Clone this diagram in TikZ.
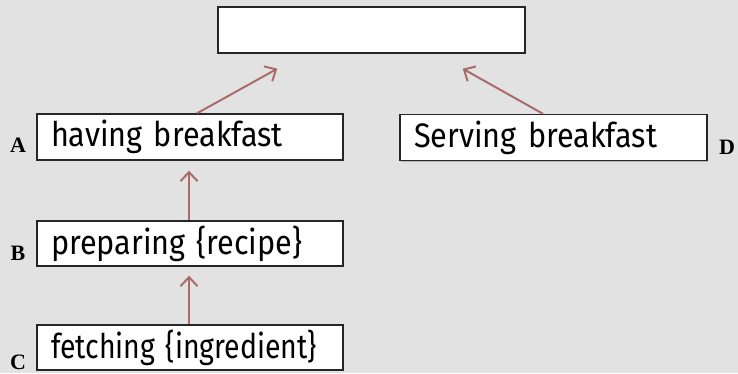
\documentclass[tikz,border=0pt]{standalone}
\usepackage{fontspec}
\usepackage{graphicx}
\setmainfont{Latin Modern Roman}
\newfontfamily\handfont[FakeStretch=0.9]{Fira Sans}
\newfontfamily\tagfont{Liberation Serif}
\usetikzlibrary{arrows.meta,shadows,calc}
\definecolor{paper}{RGB}{226,226,226}
\definecolor{arrowred}{RGB}{165,95,95}
\tikzset{
  card/.style={draw=black!85, line width=1.4pt, fill=white,
    minimum width=306pt, minimum height=46pt, inner xsep=7pt, inner ysep=0pt,
    text width=292pt, align=left,
    execute at begin node={\hspace*{7pt}},
    font=\handfont\fontsize{34}{36}\selectfont,
    drop shadow={shadow xshift=0.6pt, shadow yshift=-1.2pt, opacity=0.45}},
  tag/.style={font=\tagfont\bfseries\fontsize{22}{24}\selectfont, inner sep=0pt},
  link/.style={draw=arrowred, line width=2pt, opacity=0.9,
    -{Straight Barb[length=9pt, width=17pt, line width=2pt]}}
}
\begin{document}
\begin{tikzpicture}[x=1pt, y=-1pt]
  % paper background fixing the page size
  \fill[paper] (0,0) rectangle (738,373);
  \useasboundingbox (0,0) rectangle (738,373);

  % activity cards
  \node[card, minimum width=307pt] (goal) at (371.5,30) {};
  \node[card] (A) at (190,137) {\mbox{having breakfast}};
  \node[card, minimum width=307pt, text width=293pt] (D) at (553.5,137.5) {\mbox{Serving breakfast}};
  \node[card, minimum height=45pt] (B) at (190,243.5) {\mbox{preparing \{recipe\}}};
  \node[card, minimum height=45pt] (C) at (190,347.5) {\scalebox{0.93}[1]{fetching \{ingredient\}}};

  % letter tags
  \node[tag] (tA) at (18,145) {A};
  \node[tag] (tB) at (18,253) {B};
  \node[tag] (tC) at (18,362) {C};
  \node[tag] (tD) at (727,147) {D};

  % connectors
  \draw[link] ([xshift=7pt]A.north) -- ([xshift=60pt, yshift=-15pt]goal.south west);
  \draw[link] ([xshift=-10.5pt]D.north) -- ([xshift=-63pt, yshift=-15pt]goal.south east);
  \draw[link] ([xshift=-1pt]B.north) -- ([xshift=-1pt, yshift=-10pt]A.south);
  \draw[link] ([xshift=-1pt]C.north) -- ([xshift=-1pt, yshift=-9pt]B.south);
\end{tikzpicture}
\end{document}
